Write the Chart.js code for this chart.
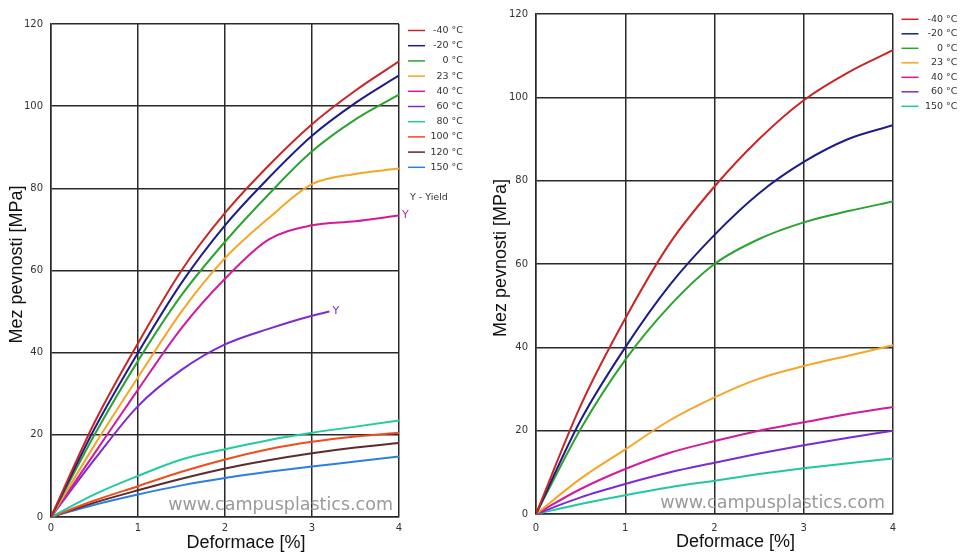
<!DOCTYPE html>
<html>
<head>
<meta charset="utf-8">
<script src="https://cdn.jsdelivr.net/npm/chart.js@4.4.0/dist/chart.umd.min.js"></script>
<style>
  body { margin: 0; background: #fff; }
  canvas { position: absolute; top: 0; }
</style>
</head>
<body>
<canvas id="left" width="480" height="553" style="left:0"></canvas>
<canvas id="right" width="480" height="553" style="left:480px"></canvas>
<script>
// strain values [%]
const strainSteps = [0, 0.5, 1, 1.5, 2, 2.5, 3, 3.5, 4];
const strain60 = [0, 0.5, 1, 1.5, 2, 2.5, 3, 3.2];
const xTicks = [0, 1, 2, 3, 4];
const yTicks = [0, 20, 40, 60, 80, 100, 120];

// left chart - stress [MPa]
const leftLabels = ['-40 °C', '-20 °C', '0 °C', '23 °C', '40 °C', '60 °C', '80 °C', '100 °C', '120 °C', '150 °C'];
const leftM40 = [0, 23, 42.3, 60, 74, 85.5, 95.6, 103.8, 110.9];
const leftM20 = [0, 21.5, 40, 57, 71, 82.5, 92.8, 100.8, 107.5];
const left0 = [0, 20, 38, 54, 67, 78.5, 89, 96.8, 102.8];
const left23 = [0, 17.5, 34, 50, 63, 72.7, 81, 83.5, 84.8];
const left40 = [0, 15.5, 31, 46, 58, 67.5, 71, 72, 73.4];
const left60 = [0, 14, 27, 35.8, 42, 45.8, 49, 50];
const left80 = [0, 5.5, 10, 14, 16.5, 18.7, 20.5, 22, 23.5];
const left100 = [0, 4, 7.5, 11, 14, 16.5, 18.3, 19.6, 20.5];
const left120 = [0, 3.5, 6.5, 9.3, 11.8, 13.8, 15.5, 16.9, 18];
const left150 = [0, 3, 5.5, 7.7, 9.5, 11, 12.3, 13.5, 14.7];

// right chart - stress [MPa]
const rightLabels = ['-40 °C', '-20 °C', '0 °C', '23 °C', '40 °C', '60 °C', '150 °C'];
const rightM40 = [0, 26, 46.9, 65, 78.6, 90, 99.3, 106, 111.3];
const rightM20 = [0, 22.5, 40, 55, 67, 77, 84.5, 90, 93.3];
const right0 = [0, 20.4, 37, 50, 60, 66, 70, 72.7, 75];
const right23 = [0, 8.5, 15.5, 22.5, 28, 32.5, 35.5, 38, 40.5];
const right40 = [0, 6, 10.8, 14.7, 17.5, 20, 22, 24, 25.7];
const right60 = [0, 4, 7.2, 10, 12.3, 14.5, 16.5, 18.3, 20];
const right150 = [0, 2.4, 4.5, 6.4, 8, 9.6, 11, 12.2, 13.3];

const leftColors = ['#cc2424', '#1c1c8a', '#2ba32f', '#f6a524', '#d41a9c', '#7b2ad6', '#1fcc9c', '#f04c1e', '#5c2c2c', '#2b7fe2'];
const rightColors = ['#cc2424', '#1c1c8a', '#2ba32f', '#f6a524', '#d41a9c', '#7b2ad6', '#1fc9a0'];

function points(xs, ys) {
  return ys.map((y, i) => ({ x: xs[i], y: y }));
}

function makeSets(labels, colors, series, xsList, marks) {
  return series.map((s, i) => ({
    label: labels[i],
    data: points(xsList[i], s),
    borderColor: colors[i],
    backgroundColor: colors[i],
    borderWidth: 2,
    pointRadius: 0,
    cubicInterpolationMode: 'monotone',
    yieldMark: marks ? marks[i] : false
  }));
}

// legend, watermark, axis titles and "Y" marks
const decor = {
  id: 'decor',
  beforeDatasetsDraw(chart) {
    const ctx = chart.ctx, a = chart.chartArea;
    const o = chart.options.plugins.decor;
    ctx.save();
    ctx.fillStyle = '#9a9a9a';
    ctx.font = '17.5px "DejaVu Sans"';
    ctx.textAlign = 'right';
    ctx.textBaseline = 'middle';
    ctx.fillText('www.campusplastics.com', a.right - o.wmRight, a.bottom - o.wmUp);
    ctx.restore();
  },
  afterDraw(chart) {
    const ctx = chart.ctx, a = chart.chartArea;
    const o = chart.options.plugins.decor;
    ctx.save();
    // legend
    ctx.font = '9.5px "DejaVu Sans"';
    ctx.textBaseline = 'middle';
    ctx.textAlign = 'right';
    chart.data.datasets.forEach((ds, i) => {
      const y = o.legTop + i * o.legStep;
      ctx.strokeStyle = ds.borderColor;
      ctx.lineWidth = 1.5;
      ctx.beginPath();
      ctx.moveTo(o.legX, y);
      ctx.lineTo(o.legX + 17, y);
      ctx.stroke();
      ctx.fillStyle = '#333';
      ctx.fillText(ds.label, o.legTextRight, y);
    });
    if (o.yieldNote) {
      ctx.textAlign = 'left';
      ctx.fillStyle = '#333';
      ctx.fillText('Y - Yield', o.legX + 2, o.yieldNote);
    }
    // Y marks at curve ends
    ctx.font = '11px "DejaVu Sans"';
    ctx.textAlign = 'left';
    chart.data.datasets.forEach((ds, i) => {
      if (!ds.yieldMark) return;
      const pts = chart.getDatasetMeta(i).data;
      const p = pts[pts.length - 1];
      ctx.fillStyle = ds.borderColor;
      ctx.fillText('Y', p.x + 3, p.y);
    });
    // axis titles
    ctx.fillStyle = '#111';
    ctx.font = '18px "Liberation Sans", Arial';
    ctx.textAlign = 'center';
    ctx.fillText('Deformace [%]', (a.left + a.right) / 2 + 21, o.xTitleY);
    ctx.translate(o.yTitleX, (a.top + a.bottom) / 2 - 6);
    ctx.rotate(-Math.PI / 2);
    ctx.fillText('Mez pevnosti [MPa]', 0, 0);
    ctx.restore();
  }
};

function options(pad, yWidth, xHeight, xPad, decorOpts) {
  return {
    responsive: false,
    animation: false,
    devicePixelRatio: 1,
    layout: { padding: pad },
    plugins: {
      legend: { display: false },
      tooltip: { enabled: false },
      decor: decorOpts
    },
    scales: {
      x: {
        type: 'linear',
        min: 0,
        max: 4,
        afterBuildTicks: s => { s.ticks = xTicks.map(v => ({ value: v })); },
        afterFit: s => { s.height = xHeight; },
        grid: { color: '#2a2a2a', lineWidth: 1.5, drawTicks: false },
        border: { color: '#2a2a2a', width: 1.5 },
        ticks: { color: '#333', font: { family: 'DejaVu Sans', size: 10 }, padding: xPad, maxRotation: 0 }
      },
      y: {
        type: 'linear',
        min: 0,
        max: 120,
        afterBuildTicks: s => { s.ticks = yTicks.map(v => ({ value: v })); },
        afterFit: s => { s.width = yWidth; },
        grid: { color: '#2a2a2a', lineWidth: 1.5, drawTicks: false },
        border: { color: '#2a2a2a', width: 1.5 },
        ticks: { color: '#333', font: { family: 'DejaVu Sans', size: 10 }, padding: 8 }
      }
    }
  };
}

const full = strainSteps;
new Chart(document.getElementById('left').getContext('2d'), {
  type: 'line',
  data: {
    datasets: makeSets(
      leftLabels, leftColors,
      [leftM40, leftM20, left0, left23, left40, left60, left80, left100, left120, left150],
      [full, full, full, full, full, strain60, full, full, full, full],
      [false, false, false, false, true, true, false, false, false, false]
    )
  },
  options: options({ top: 24, right: 81, bottom: 0, left: 0 }, 51, 36, 5, {
    legX: 408, legTextRight: 463, legTop: 30.5, legStep: 15.2, yieldNote: 198,
    wmRight: 6, wmUp: 12, xTitleY: 543, yTitleX: 17.5
  }),
  plugins: [decor]
});

new Chart(document.getElementById('right').getContext('2d'), {
  type: 'line',
  data: {
    datasets: makeSets(
      rightLabels, rightColors,
      [rightM40, rightM20, right0, right23, right40, right60, right150],
      [full, full, full, full, full, full, full],
      null
    )
  },
  options: options({ top: 14, right: 67, bottom: 0, left: 0 }, 56, 39, 8, {
    legX: 421.5, legTextRight: 477.5, legTop: 19.3, legStep: 14.5, yieldNote: 0,
    wmRight: 8, wmUp: 11, xTitleY: 542, yTitleX: 21.5
  }),
  plugins: [decor]
});
</script>
</body>
</html>
